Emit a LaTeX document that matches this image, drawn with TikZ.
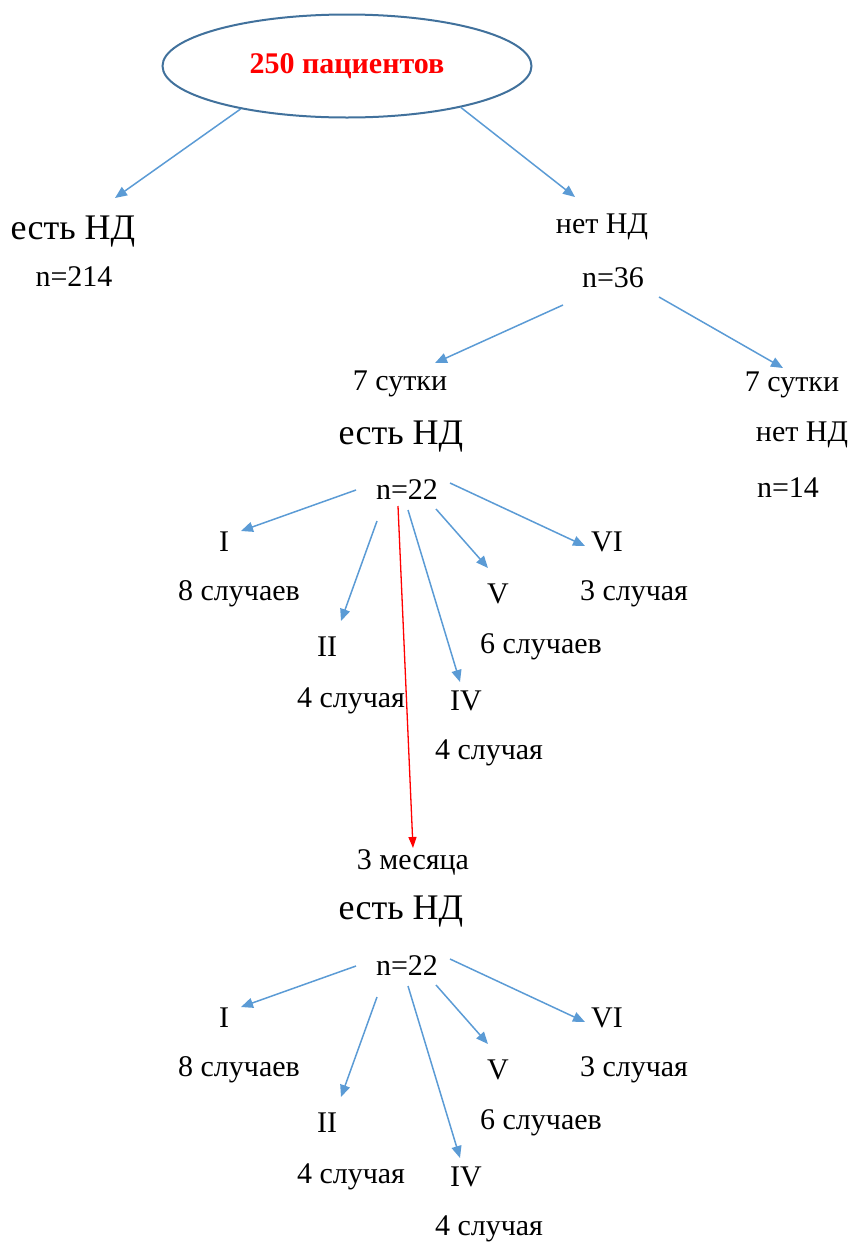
\documentclass[tikz,border=0pt]{standalone}
\usepackage{fontspec}
\setmainfont{Liberation Serif}
\usepackage{xcolor}
\usetikzlibrary{shapes.geometric, arrows.meta}
\definecolor{arrblue}{RGB}{91,155,213}
\definecolor{ellblue}{RGB}{65,113,156}
\tikzset{
  txt/.style={font=\fontsize{30}{36}\selectfont, inner sep=0pt},
  bigtxt/.style={font=\fontsize{36}{43}\selectfont, inner sep=0pt},
  arr/.style={draw=arrblue, line width=1.5pt, -{Triangle[length=12pt,width=10pt]}},
  redarr/.style={draw=red, line width=1.3pt, -{Triangle[length=11pt,width=8pt]}}
}

\begin{document}
\begin{tikzpicture}[x=1pt, y=-1pt]
  \useasboundingbox (0,0) rectangle (850,1243);
  \node [ellipse, draw=ellblue, line width=2pt, minimum width=369pt, minimum height=103pt,
         inner sep=0pt, text=red, font=\fontsize{30}{36}\selectfont\bfseries]
        (top) at (347,66) {250 пациентов};          % root

  \node [bigtxt] (yesA) at (73,232) {есть НД};       % left branch
  \node [txt] (nA) at (74,277) {n=214};
  \node [txt] (noA) at (602,227) {нет НД};           % right branch
  \node [txt] (nB) at (613,278) {n=36};

  \node [txt] (dayA) at (400,384) {7 сутки};         % day 7, with ND
  \node [bigtxt] (yesB) at (401,437) {есть НД};
  \node [txt] (nC) at (407,490) {n=22};
  \node [txt] (dayB) at (792,385) {7 сутки};         % day 7, no ND
  \node [txt] (noB) at (802,435) {нет НД};
  \node [txt] (nD) at (788,488) {n=14};

  \node [txt] (gIa) at (224,542) {I};                % groups, day 7
  \node [txt] (cIa) at (239,594) {8 случаев};
  \node [txt] (gIIa) at (327,647) {II};
  \node [txt] (cIIa) at (351,701) {4 случая};
  \node [txt] (gIVa) at (466,701) {IV};
  \node [txt] (cIVa) at (489,753) {4 случая};
  \node [txt] (gVa) at (498,594) {V};
  \node [txt] (cVa) at (541,647) {6 случаев};
  \node [txt] (gVIa) at (607,542) {VI};
  \node [txt] (cVIa) at (634,594) {3 случая};

  \node [txt] (mon) at (413,862) {3 месяца};         % 3 months
  \node [bigtxt] (yesC) at (401,912) {есть НД};
  \node [txt] (nE) at (407,966) {n=22};

  \node [txt] (gIb) at (224,1018) {I};               % groups, 3 months
  \node [txt] (cIb) at (239,1070) {8 случаев};
  \node [txt] (gIIb) at (327,1123) {II};
  \node [txt] (cIIb) at (351,1177) {4 случая};
  \node [txt] (gIVb) at (466,1177) {IV};
  \node [txt] (cIVb) at (489,1229) {4 случая};
  \node [txt] (gVb) at (498,1070) {V};
  \node [txt] (cVb) at (541,1123) {6 случаев};
  \node [txt] (gVIb) at (607,1018) {VI};
  \node [txt] (cVIb) at (634,1070) {3 случая};

  \draw [arr] (top.202) -- ([xshift=42pt,yshift=34pt]yesA.center);   % root to branches
  \draw [arr] (top.340) -- ([xshift=-27pt,yshift=30pt]noA.center);
  \draw [arr] ([xshift=-50pt,yshift=-27pt]nB.center) -- ([xshift=35pt,yshift=21pt]dayA.center);
  \draw [arr] ([xshift=46pt,yshift=-19pt]nB.center) -- ([xshift=-9pt,yshift=17pt]dayB.center);

  \draw [arr] ([xshift=-51pt]nC.center) -- ([xshift=17pt,yshift=11pt]gIa.center);   % day 7 fan
  \draw [arr] ([xshift=-30pt,yshift=-31pt]nC.center) -- ([xshift=14pt,yshift=26pt]gIIa.center);
  \draw [arr] ([xshift=1pt,yshift=-20pt]nC.center) -- ([xshift=-6pt,yshift=19pt]gIVa.center);
  \draw [arr] ([xshift=29pt,yshift=-19pt]nC.center) -- ([xshift=-10pt,yshift=26pt]gVa.center);
  \draw [arr] ([xshift=43pt,yshift=7pt]nC.center) -- ([xshift=-22pt,yshift=-4pt]gVIa.center);
  \draw [redarr] ([xshift=-9pt,yshift=-16pt]nC.center) -- ([yshift=14pt]mon.center);

  \draw [arr] ([xshift=-51pt]nE.center) -- ([xshift=17pt,yshift=11pt]gIb.center);   % 3 months fan
  \draw [arr] ([xshift=-30pt,yshift=-31pt]nE.center) -- ([xshift=14pt,yshift=26pt]gIIb.center);
  \draw [arr] ([xshift=1pt,yshift=-20pt]nE.center) -- ([xshift=-6pt,yshift=19pt]gIVb.center);
  \draw [arr] ([xshift=29pt,yshift=-19pt]nE.center) -- ([xshift=-10pt,yshift=26pt]gVb.center);
  \draw [arr] ([xshift=43pt,yshift=7pt]nE.center) -- ([xshift=-22pt,yshift=-4pt]gVIb.center);
\end{tikzpicture}
\end{document}
